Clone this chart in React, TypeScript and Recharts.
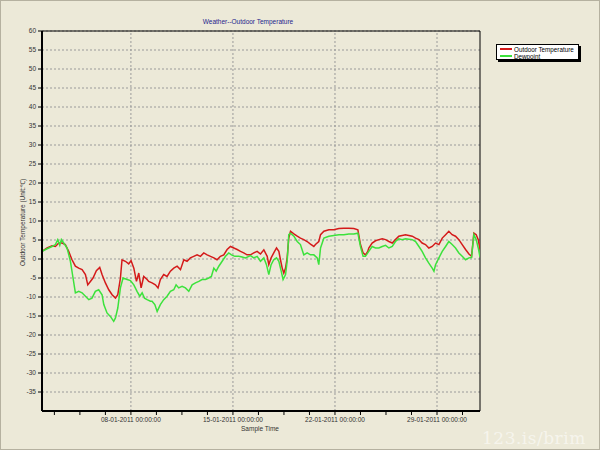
import React from 'react';
import { LineChart, Line, XAxis, YAxis, CartesianGrid, ReferenceLine, ReferenceArea } from 'recharts';

// time is in days since 01-01-2011 00:00:00
const tempTime = [
  0.9, 1.25, 1.59, 1.82, 2.05, 2.28, 2.5, 2.73, 2.96, 3.19, 3.42, 3.65, 3.88, 4.04, 4.22, 4.4, 4.63, 4.86,
  5.02, 5.25, 5.48, 5.71, 5.94, 6.1, 6.28, 6.39, 6.62, 6.85, 7.01, 7.2, 7.38, 7.54, 7.7, 7.88, 8.11, 8.22,
  8.45, 8.68, 8.86, 9.02, 9.25, 9.48, 9.71, 9.94, 10.17, 10.4, 10.63, 10.85, 11.08, 11.31, 11.54, 11.77, 12.0,
  12.23, 12.46, 12.69, 12.91, 13.14, 13.37, 13.6, 13.83, 14.06, 14.29, 14.52, 14.74, 14.97, 15.2, 15.43,
  15.66, 15.89, 16.12, 16.35, 16.46, 16.62, 16.8, 16.99, 17.15, 17.26, 17.38, 17.49, 17.61, 17.72, 17.83,
  17.95, 18.18, 18.41, 18.63, 18.86, 19.09, 19.32, 19.55, 19.66, 19.89, 20.01, 20.24, 20.58, 20.92, 21.27,
  21.61, 21.95, 22.29, 22.57, 22.75, 22.93, 23.09, 23.25, 23.32, 23.55, 23.78, 24.01, 24.24, 24.47, 24.7,
  24.93, 25.15, 25.38, 25.61, 25.84, 26.07, 26.3, 26.53, 26.76, 26.98, 27.21, 27.44, 27.67, 27.9, 28.13,
  28.36, 28.59, 28.81, 29.04, 29.27, 29.5, 29.73, 29.96, 30.19, 30.37, 30.53, 30.69, 30.83, 30.95,
];
const tempValue = [
  2.0, 2.9, 3.5, 3.3, 4.2, 4.2, 3.8, 2.0, -0.2, -1.9, -2.4, -2.8, -4.1, -6.8, -5.9, -5.0, -3.1, -2.2,
  -4.1, -6.3, -8.1, -9.4, -10.3, -9.4, -5.0, -0.2, -0.6, -1.3, -0.4, -2.4, -5.9, -3.7, -7.6, -4.6, -5.4, -5.9,
  -6.3, -6.8, -7.6, -5.4, -4.1, -4.6, -3.2, -2.4, -1.9, -2.8, -0.2, -0.6, 0.3, 0.7, 1.1, 0.7, 1.6,
  1.1, 0.7, 0.3, -0.2, 0.7, 1.1, 2.5, 3.3, 2.9, 2.5, 2.0, 1.6, 1.1, 1.1, 1.6,
  2.0, 1.3, 2.4, 0.7, -1.5, 0.3, 1.6, 2.9, 2.0, -0.2, -2.4, -3.7, -2.4, 0.3, 5.5,
  7.3, 6.6, 6.0, 5.5, 5.1, 4.6, 3.9, 3.3, 3.8, 4.6, 6.4, 7.3, 7.7, 7.7, 8.0,
  8.1, 8.1, 8.0, 7.7, 3.8, 1.6, 1.1, 2.0, 2.9, 4.2, 4.8, 5.1, 5.3, 5.1, 4.6,
  4.2, 5.1, 6.0, 6.2, 6.4, 6.2, 6.0, 5.5, 5.1, 4.2, 3.8, 2.9, 3.3, 4.2, 3.8,
  5.5, 6.4, 7.3, 6.4, 6.0, 5.1, 3.8, 2.5, 1.3, 0.7, 6.8, 6.4, 5.1, 2.5,
];

const dewTime = [
  0.9, 1.25, 1.59, 1.82, 1.98, 2.12, 2.23, 2.39, 2.62, 2.85, 3.03, 3.19, 3.42, 3.65, 3.88, 4.11, 4.33, 4.56,
  4.79, 5.02, 5.14, 5.36, 5.59, 5.82, 5.94, 6.1, 6.28, 6.46, 6.74, 6.97, 7.2, 7.42, 7.61, 7.77, 7.93, 8.11,
  8.34, 8.45, 8.64, 8.8, 9.02, 9.25, 9.48, 9.71, 9.94, 10.1, 10.28, 10.51, 10.74, 10.97, 11.2, 11.43, 11.66,
  11.88, 12.11, 12.34, 12.52, 12.69, 12.85, 13.03, 13.26, 13.49, 13.71, 13.9, 14.13, 14.4, 14.63, 14.86,
  15.09, 15.2, 15.43, 15.66, 15.89, 16.12, 16.3, 16.46, 16.62, 16.8, 16.99, 17.15, 17.31, 17.44, 17.61,
  17.72, 17.83, 17.95, 18.18, 18.41, 18.63, 18.86, 19.09, 19.32, 19.55, 19.78, 19.89, 20.01, 20.24, 20.58,
  20.92, 21.27, 21.61, 21.95, 22.29, 22.57, 22.75, 22.93, 23.09, 23.25, 23.32, 23.55, 23.78, 24.01, 24.24,
  24.47, 24.7, 24.93, 25.15, 25.38, 25.61, 25.84, 26.07, 26.3, 26.53, 26.76, 26.98, 27.21, 27.44, 27.67,
  27.79, 27.9, 28.13, 28.36, 28.59, 28.81, 29.04, 29.27, 29.5, 29.73, 29.96, 30.19, 30.37, 30.53, 30.69,
  30.83, 30.95,
];
const dewValue = [
  2.0, 2.7, 3.3, 3.8, 5.1, 3.6, 5.1, 4.2, 2.9, -0.6, -5.0, -8.9, -8.5, -8.9, -9.8, -10.7, -10.3, -8.5,
  -8.1, -9.4, -12.0, -14.2, -15.1, -16.4, -15.5, -12.9, -7.6, -5.0, -5.4, -5.7, -6.8, -8.5, -9.8, -8.9, -10.3, -10.7,
  -11.1, -11.1, -12.0, -13.8, -12.0, -10.7, -9.8, -8.5, -8.1, -6.8, -7.6, -7.2, -7.6, -8.5, -6.8, -6.3, -5.9,
  -5.4, -5.4, -5.0, -4.6, -2.4, -3.2, -1.9, -0.6, 0.7, 1.6, 1.1, 0.7, 0.7, 0.5, 0.3,
  0.7, 0.9, 0.3, 0.7, -0.6, 0.3, -1.5, -4.1, -1.5, -0.2, 0.3, -0.6, -3.2, -5.4, -4.1,
  -0.6, 6.4, 6.8, 6.0, 4.6, 3.8, 1.1, 1.6, 1.1, 1.1, 0.3, -1.5, 2.9, 5.5, 6.0,
  6.2, 6.4, 6.4, 6.6, 6.6, 6.8, 3.3, 0.7, 0.7, 1.6, 2.0, 3.3, 2.9, 2.9, 3.3,
  3.6, 2.9, 3.3, 4.6, 5.3, 5.1, 5.3, 5.2, 5.1, 4.6, 3.3, 2.0, 0.3, -1.1, -2.4,
  -3.2, -1.5, 0.3, 2.0, 3.3, 4.6, 3.8, 2.9, 1.6, 0.7, -0.2, 0.3, 0.4, 6.4, 5.1,
  2.9, 0.5,
];

const yTicks = [-35, -30, -25, -20, -15, -10, -5, 0, 5, 10, 15, 20, 25, 30, 35, 40, 45, 50, 55, 60];
const majorDays = [7, 14, 21, 28];
const majorLabels = ['08-01-2011 00:00:00', '15-01-2011 00:00:00', '22-01-2011 00:00:00', '29-01-2011 00:00:00'];
const minorDays = [1.75, 3.5, 5.25, 8.75, 10.5, 12.25, 15.75, 17.5, 19.25, 22.75, 24.5, 26.25, 29.75];

const seriesNames = ['Outdoor Temperature', 'Dewpoint'];
const seriesColors = ['#d41a1a', '#3ce23c'];

const tempData = tempTime.map((t, i) => ({ t, v: tempValue[i] }));
const dewData = dewTime.map((t, i) => ({ t, v: dewValue[i] }));
const xTicks = [...majorDays, ...minorDays].sort((a, b) => a - b);

const font = '"Liberation Sans", Arial, sans-serif';
const tickStyle = { fontSize: 6.5, fill: '#333', fontFamily: font };

const formatDay = (d: number) => {
  const i = majorDays.indexOf(d);
  return i >= 0 ? majorLabels[i] : '';
};

export default function App() {
  return (
    <div style={{ position: 'relative', width: 600, height: 450, background: '#ece9d8', fontFamily: font, overflow: 'hidden' }}>
      <style>{'body{margin:0}'}</style>
      <LineChart width={600} height={450} margin={{ top: 31, right: 120, bottom: 19, left: 12 }}>
        <CartesianGrid vertical={false} stroke="#9a9a9a" strokeDasharray="2 2" />
        {majorDays.map((d) => (
          <ReferenceLine key={d} x={d} stroke="#9a9a9a" strokeDasharray="2 2" />
        ))}
        <XAxis
          dataKey="t"
          type="number"
          domain={[0.9, 30.95]}
          allowDataOverflow
          ticks={xTicks}
          interval={0}
          tickFormatter={formatDay}
          tick={tickStyle}
          tickSize={4}
          tickLine={{ stroke: '#000' }}
          axisLine={{ stroke: '#000', strokeWidth: 2 }}
          height={20}
        />
        <YAxis
          type="number"
          domain={[-40, 60]}
          ticks={yTicks}
          interval={0}
          tick={tickStyle}
          tickSize={4}
          tickLine={{ stroke: '#000' }}
          axisLine={{ stroke: '#000', strokeWidth: 2 }}
          width={30}
        />
        <ReferenceArea x1={0.9} x2={30.95} y1={-40} y2={60} fill="none" stroke="#000" strokeWidth={1} />
        <Line data={tempData} dataKey="v" name={seriesNames[0]} stroke={seriesColors[0]} strokeWidth={1.5}
          dot={false} type="linear" isAnimationActive={false} />
        <Line data={dewData} dataKey="v" name={seriesNames[1]} stroke={seriesColors[1]} strokeWidth={1.5}
          dot={false} type="linear" isAnimationActive={false} />
      </LineChart>

      <div style={{ position: 'absolute', left: 148, width: 200, top: 18, textAlign: 'center', fontSize: 6.5, color: '#1c1c8c' }}>
        Weather--Outdoor Temperature
      </div>
      <div style={{ position: 'absolute', left: 160, width: 200, top: 425, textAlign: 'center', fontSize: 6.5, color: '#333' }}>
        Sample Time
      </div>
      <div style={{ position: 'absolute', left: 22 - 60, top: 218, width: 120, textAlign: 'center', fontSize: 6.5, color: '#333',
        transform: 'rotate(-90deg)', whiteSpace: 'nowrap' }}>
        Outdoor Temperature (Unit:℃)
      </div>

      <div style={{ position: 'absolute', left: 496, top: 44, width: 83, height: 16, boxSizing: 'border-box', background: '#fff',
        border: '1px solid #000', boxShadow: '2px 2px 0 #000', fontSize: 6.3, color: '#000', padding: '0.5px 0' }}>
        {seriesNames.map((n, i) => (
          <div key={n} style={{ display: 'flex', alignItems: 'center', height: 7, lineHeight: '7px', whiteSpace: 'nowrap' }}>
            <span style={{ display: 'inline-block', width: 12, height: 1.5, background: seriesColors[i], margin: '0 2px 0 3px' }} />
            <span>{n}</span>
          </div>
        ))}
      </div>

      <div style={{ position: 'absolute', left: 482, top: 428, fontSize: 17, fontFamily: '"DejaVu Serif", serif',
        color: 'rgba(255,255,255,0.55)', whiteSpace: 'nowrap', letterSpacing: 0.5 }}>
        123.is/brim
      </div>
      <div style={{ position: 'absolute', inset: 0, border: '1px solid #b5b1a0', pointerEvents: 'none' }} />
    </div>
  );
}
